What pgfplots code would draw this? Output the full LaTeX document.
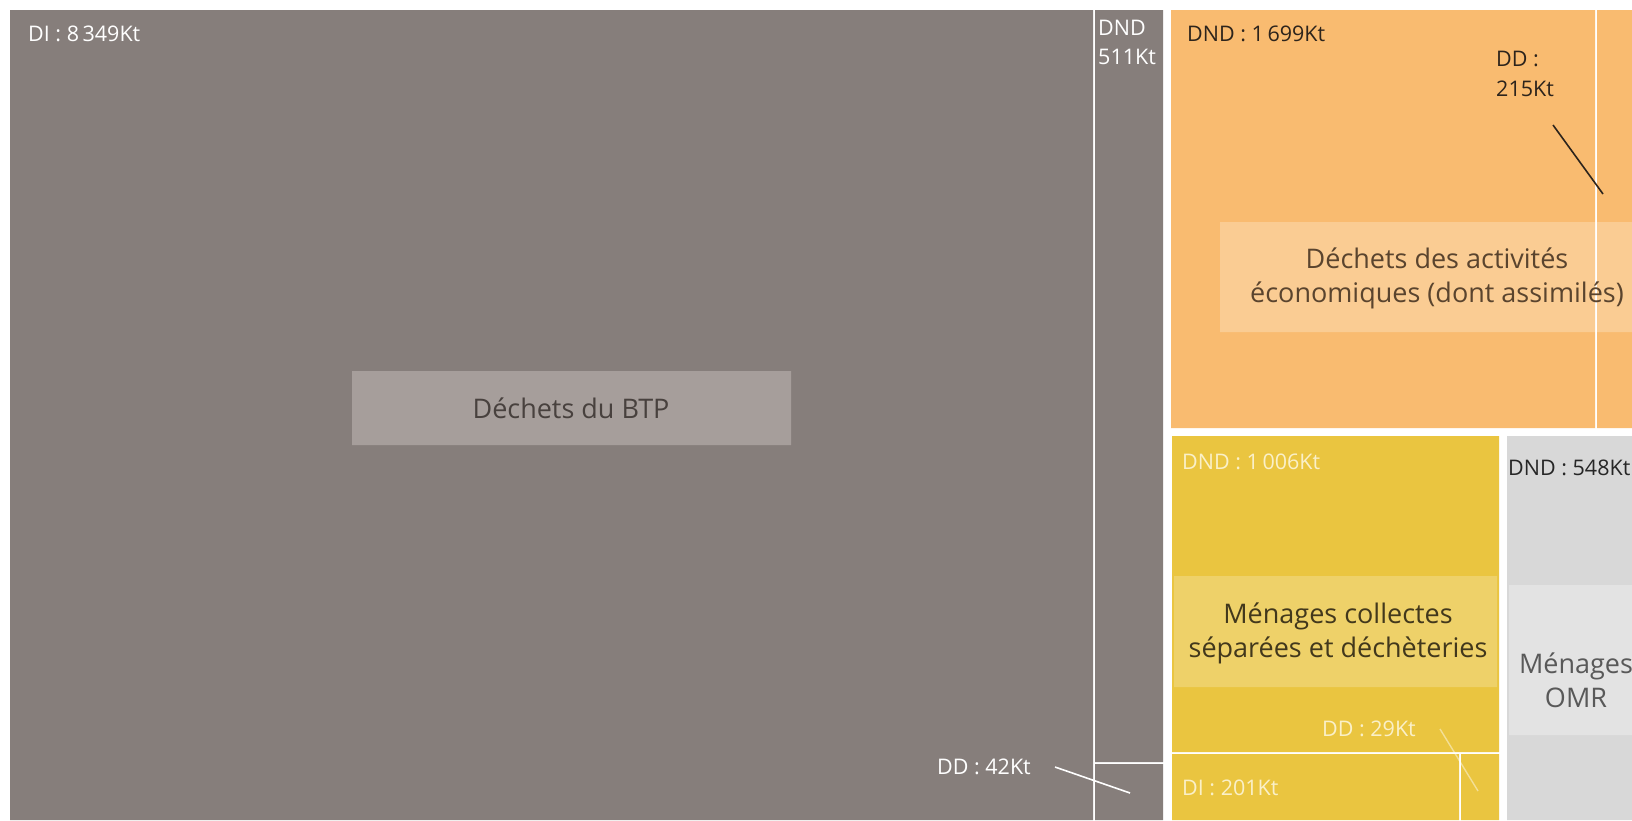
\documentclass[border=0pt]{standalone}
\usepackage{fontspec}
\setmainfont{Open Sans}
\usepackage{pgfplots}
\pgfplotsset{compat=1.18}
\definecolor{btp}{RGB}{134,126,123}
\definecolor{btpbox}{RGB}{166,158,155}
\definecolor{dae}{RGB}{249,187,112}
\definecolor{men}{RGB}{234,197,64}
\definecolor{omr}{RGB}{216,216,216}
\definecolor{darktxt}{RGB}{45,36,28}
\definecolor{cattxt}{RGB}{72,65,62}
\definecolor{yeltxt}{RGB}{250,240,200}
\tikzset{
  val/.style={font=\fontsize{21.5}{30}\selectfont, inner sep=0pt, anchor=base west},
  cat/.style={font=\fontsize{27}{34}\selectfont, align=center, inner sep=0pt, text=cattxt}
}
\begin{document}
\begin{tikzpicture}
\begin{axis}[width=1632pt,height=820pt,scale only axis,
  xmin=0,xmax=1632,ymin=0,ymax=820,y dir=reverse,hide axis,clip=true]
% background
\addplot[fill=white,draw=none] coordinates {(0,0)(1632,0)(1632,820)(0,820)(0,0)};
% Dechets du BTP : DI 8349, DND 511, DD 42
\addplot[fill=btp,draw=none] coordinates {(10,10)(1093,10)(1093,820)(10,820)(10,10)};
\addplot[fill=btp,draw=none] coordinates {(1095,10)(1163,10)(1163,762)(1095,762)(1095,10)};
\addplot[fill=btp,draw=none] coordinates {(1095,764)(1163,764)(1163,820)(1095,820)(1095,764)};
% Dechets des activites economiques : DND 1699, DD 215
\addplot[fill=dae,draw=none] coordinates {(1171,10)(1595,10)(1595,428)(1171,428)(1171,10)};
\addplot[fill=dae,draw=none] coordinates {(1597,10)(1650,10)(1650,428)(1597,428)(1597,10)};
% Menages collectes separees : DND 1006, DI 201, DD 29
\addplot[fill=men,draw=none] coordinates {(1172,436)(1499,436)(1499,752)(1172,752)(1172,436)};
\addplot[fill=men,draw=none] coordinates {(1172,754)(1459,754)(1459,820)(1172,820)(1172,754)};
\addplot[fill=men,draw=none] coordinates {(1461,754)(1499,754)(1499,820)(1461,820)(1461,754)};
% Menages OMR : DND 548
\addplot[fill=omr,draw=none] coordinates {(1507,436)(1652,436)(1652,820)(1507,820)(1507,436)};
% label boxes
\addplot[fill=btpbox,draw=none] coordinates {(352,371)(791,371)(791,445)(352,445)(352,371)};
\addplot[fill=white,fill opacity=0.25,draw=none] coordinates {(1220,222)(1654,222)(1654,332)(1220,332)(1220,222)};
\addplot[fill=white,fill opacity=0.22,draw=none] coordinates {(1174,576)(1497,576)(1497,687)(1174,687)(1174,576)};
\addplot[fill=white,fill opacity=0.3,draw=none] coordinates {(1509,585)(1652,585)(1652,735)(1509,735)(1509,585)};
% leader lines
\addplot[draw=white,line width=1.6pt] coordinates {(1055,767)(1130,793)};
\addplot[draw=darktxt,line width=1.6pt] coordinates {(1553,125)(1603,194)};
\addplot[draw=white,draw opacity=0.45,line width=1.4pt] coordinates {(1440,729)(1478,791)};
% value labels
\node[val,text=white] at (28,41) {DI : 8\,349Kt};
\node[val,text=white] at (1098,35) {DND};
\node[val,text=white] at (1098,64) {511Kt};
\node[val,text=white,anchor=base east] at (1031,774) {DD : 42Kt};
\node[val,text=darktxt] at (1187,41) {DND : 1\,699Kt};
\node[val,text=darktxt] at (1496,66) {DD :};
\node[val,text=darktxt] at (1496,96) {215Kt};
\node[val,text=yeltxt] at (1182,469) {DND : 1\,006Kt};
\node[val,text=yeltxt] at (1322,736) {DD : 29Kt};
\node[val,text=yeltxt] at (1182,795) {DI : 201Kt};
\node[val,text=black!85] at (1508,475) {DND : 548Kt};
% category labels
\node[cat] at (571,408) {Déchets du BTP};
\node[cat,text={rgb,255:red,90;green,68;blue,46}] at (1437,278) {Déchets des activités\\économiques (dont assimilés)};
\node[cat,text={rgb,255:red,66;green,56;blue,28}] at (1338,633) {Ménages collectes\\séparées et déchèteries};
\node[cat,text=black!65] at (1576,680) {Ménages\\OMR};
\end{axis}
\pgfresetboundingbox
\useasboundingbox (0,0) rectangle (1632pt,820pt);
\end{tikzpicture}
\end{document}
